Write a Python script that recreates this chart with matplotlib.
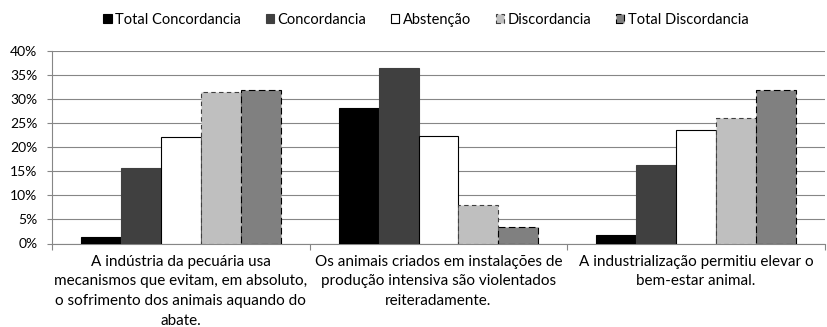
import numpy as np
import matplotlib
matplotlib.use("Agg")
import matplotlib.pyplot as plt
from matplotlib.patches import Patch
from matplotlib.ticker import FuncFormatter, MultipleLocator, FixedLocator

plt.rcParams['font.family'] = ['Lato', 'DejaVu Sans']

# --- Data (percentages) ---
categories = [
    'A indústria da pecuária usa\nmecanismos que evitam, em absoluto,\no sofrimento dos animais aquando do\nabate.',
    'Os animais criados em instalações de\nprodução intensiva são violentados\nreiteradamente.',
    'A industrialização permitiu elevar o\nbem-estar animal.',
]
series_names = ['Total Concordancia', 'Concordancia', 'Abstenção', 'Discordancia', 'Total Discordancia']
total_concordancia = [1.3, 28.2, 1.7]
concordancia = [15.7, 36.4, 16.3]
abstencao = [22.1, 22.4, 23.5]
discordancia = [31.5, 7.9, 26.1]
total_discordancia = [31.9, 3.5, 31.9]

series = [total_concordancia, concordancia, abstencao, discordancia, total_discordancia]

# bar styles: face, edge, dash pattern
styles = [
    dict(facecolor='#000000', edgecolor='#000000', linestyle='-'),
    dict(facecolor='#404040', edgecolor='#404040', linestyle='-'),
    dict(facecolor='#FFFFFF', edgecolor='#000000', linestyle='-'),
    dict(facecolor='#BFBFBF', edgecolor='#404040', linestyle=(0, (4, 3))),
    dict(facecolor='#808080', edgecolor='#000000', linestyle=(0, (6, 3))),
]

# --- Figure ---
fig = plt.figure(figsize=(8.27, 3.27), dpi=100)
ax = fig.add_axes([52 / 827, (327 - 243.5) / 327, 773 / 827, 192.5 / 327])

x = np.arange(len(categories))
width = 0.155
for i, (vals, st) in enumerate(zip(series, styles)):
    ax.bar(x + (i - 2) * width, vals, width, linewidth=0.8, zorder=3, **st)

# --- Axes ---
ax.set_xlim(-0.5, len(categories) - 0.5)
ax.set_ylim(0, 40)
ax.yaxis.set_major_locator(MultipleLocator(5))
ax.yaxis.set_major_formatter(FuncFormatter(lambda v, p: f'{v:.0f}%'))
ax.tick_params(axis='y', labelsize=10, length=3.5, width=0.8, color='#868686', pad=7)
ax.grid(axis='y', color='#868686', linewidth=0.8, zorder=0)
ax.set_axisbelow(True)

# category labels at centres, separators at boundaries
ax.set_xticks(x)
ax.set_xticklabels(categories, fontsize=11, linespacing=1.52, va='top')
ax.tick_params(axis='x', which='major', length=0, pad=8)
ax.xaxis.set_minor_locator(FixedLocator(np.arange(len(categories) + 1) - 0.5))
ax.tick_params(axis='x', which='minor', length=4, width=0.8, color='#868686')

for side in ['top', 'right']:
    ax.spines[side].set_visible(False)
for side in ['left', 'bottom']:
    ax.spines[side].set_color('#868686')
    ax.spines[side].set_linewidth(0.8)

# --- Legend ---
handles = [Patch(linewidth=0.8, **st) for st in styles]
fig.legend(handles, series_names, loc='center', bbox_to_anchor=(426 / 827, 1 - 20 / 327),
           ncol=5, frameon=False, fontsize=10.5, handlelength=0.55, handleheight=0.55,
           handletextpad=0.25, columnspacing=1.7, borderaxespad=0)

fig.savefig('out.png', dpi=100, facecolor='white')
